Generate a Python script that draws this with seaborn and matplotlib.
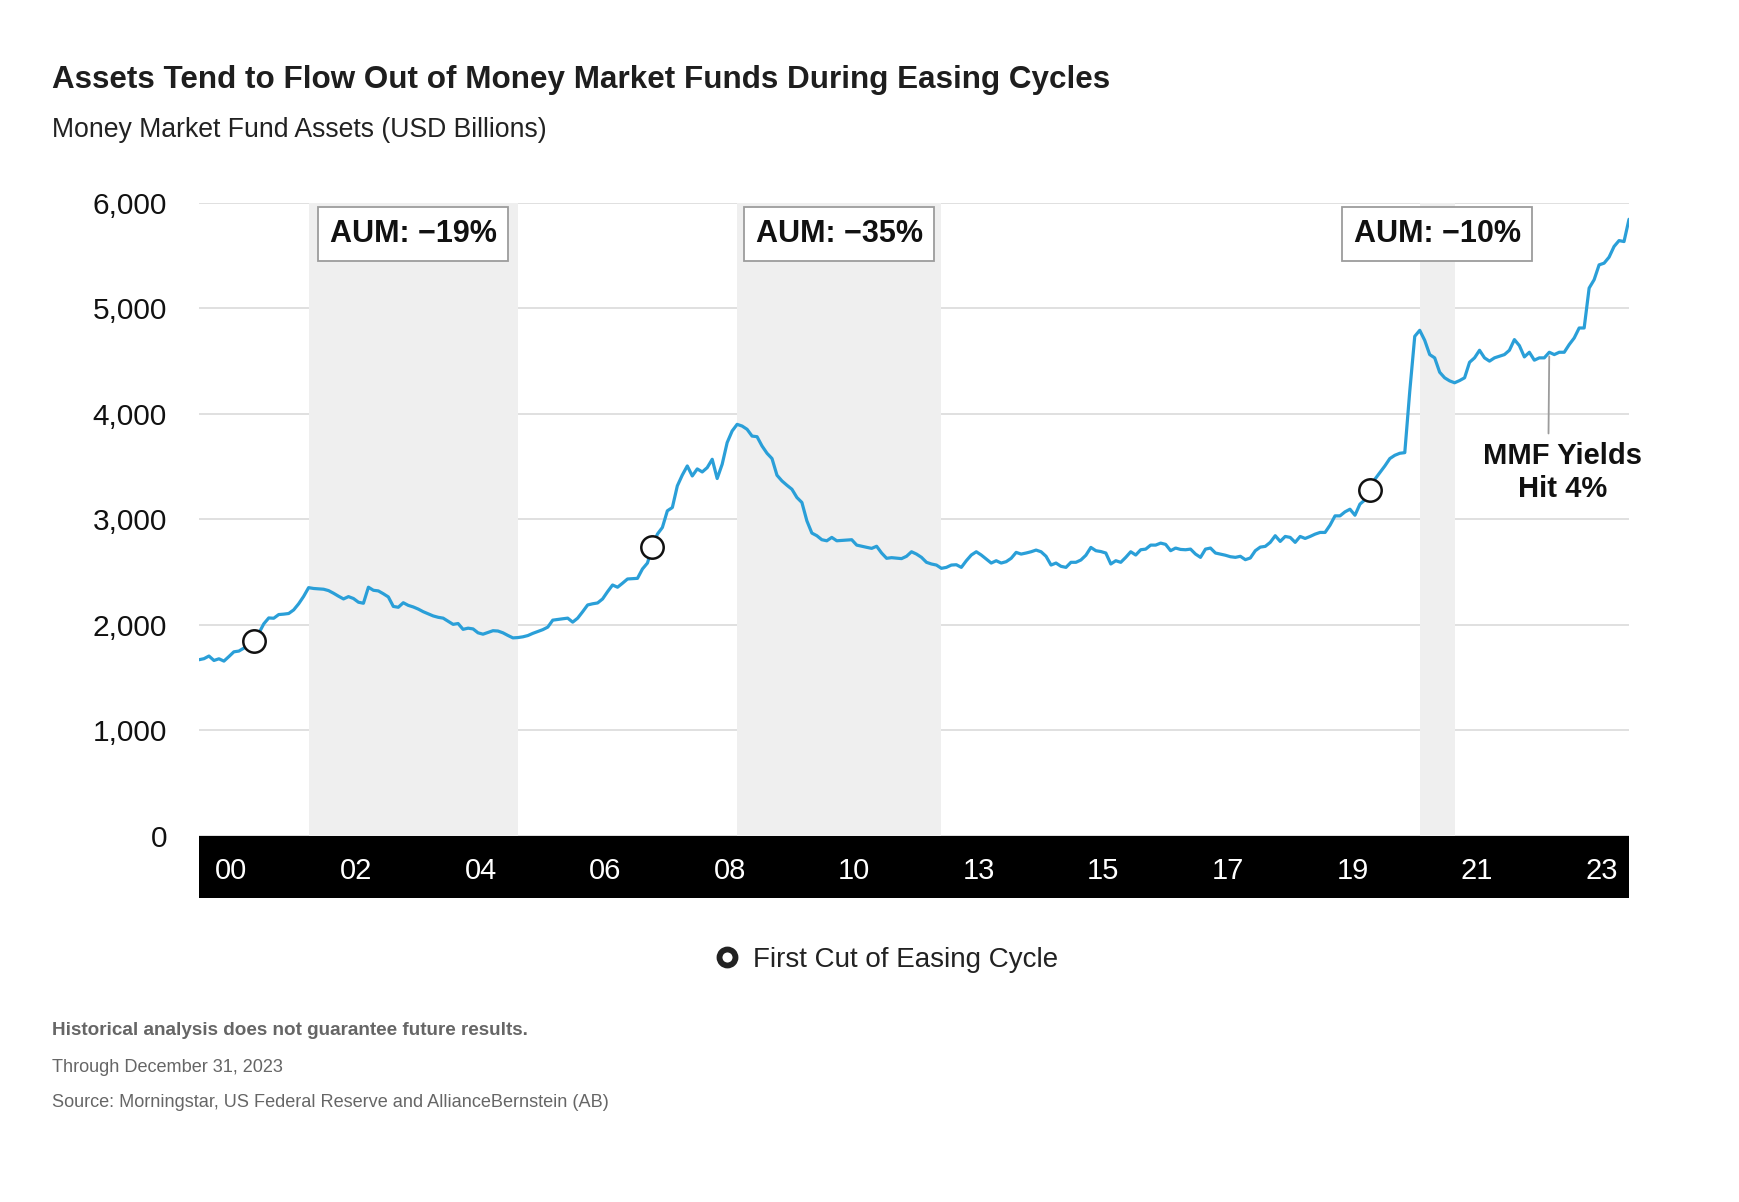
import numpy as np
import pandas as pd
import matplotlib
matplotlib.use("Agg")
import matplotlib.pyplot as plt
import seaborn as sns
from matplotlib.lines import Line2D

# Money market fund assets, USD billions, monthly
y2000 = [1670, 1680, 1705, 1663, 1679, 1657, 1700, 1745, 1752, 1780, 1805, 1852]
y2001 = [1920, 2010, 2066, 2063, 2098, 2102, 2108, 2142, 2200, 2270, 2353, 2345]
y2002 = [2342, 2338, 2325, 2300, 2272, 2246, 2268, 2250, 2215, 2205, 2357, 2328]
y2003 = [2322, 2295, 2265, 2175, 2167, 2210, 2185, 2170, 2150, 2125, 2105, 2085]
y2004 = [2072, 2064, 2035, 2005, 2013, 1958, 1969, 1962, 1925, 1912, 1928, 1945]
y2005 = [1942, 1925, 1900, 1877, 1880, 1887, 1899, 1920, 1937, 1955, 1979, 2045]
y2006 = [2052, 2058, 2064, 2026, 2064, 2125, 2189, 2200, 2208, 2246, 2315, 2378]
y2007 = [2357, 2395, 2435, 2438, 2441, 2530, 2586, 2740, 2860, 2923, 3081, 3112]
y2008 = [3317, 3420, 3506, 3411, 3478, 3449, 3490, 3569, 3387, 3522, 3727, 3837]
y2009 = [3900, 3884, 3853, 3789, 3783, 3695, 3626, 3576, 3418, 3364, 3323, 3285]
y2010 = [3207, 3160, 2986, 2870, 2845, 2807, 2797, 2829, 2797, 2800, 2804, 2807]
y2011 = [2756, 2745, 2735, 2725, 2745, 2681, 2631, 2637, 2632, 2628, 2650, 2693]
y2012 = [2671, 2640, 2593, 2577, 2567, 2536, 2545, 2567, 2570, 2545, 2608, 2662]
y2013 = [2693, 2662, 2624, 2586, 2608, 2586, 2599, 2631, 2687, 2671, 2681, 2693]
y2014 = [2709, 2693, 2650, 2567, 2586, 2555, 2545, 2593, 2593, 2615, 2660, 2734]
y2015 = [2703, 2695, 2681, 2577, 2608, 2593, 2640, 2693, 2662, 2712, 2718, 2756]
y2016 = [2756, 2775, 2763, 2703, 2728, 2715, 2712, 2718, 2671, 2640, 2718, 2728]
y2017 = [2681, 2671, 2660, 2646, 2640, 2650, 2618, 2634, 2703, 2737, 2744, 2782]
y2018 = [2845, 2791, 2838, 2829, 2782, 2838, 2819, 2838, 2860, 2876, 2876, 2945]
y2019 = [3033, 3033, 3071, 3096, 3039, 3144, 3185, 3274, 3380, 3443, 3506, 3576]
y2020 = [3607, 3626, 3632, 4214, 4734, 4791, 4696, 4561, 4530, 4394, 4341, 4312]
y2021 = [4294, 4315, 4341, 4488, 4530, 4602, 4530, 4499, 4530, 4545, 4561, 4602]
y2022 = [4703, 4646, 4539, 4583, 4508, 4530, 4530, 4583, 4561, 4583, 4583, 4656]
y2023 = [4718, 4813, 4813, 5191, 5270, 5411, 5427, 5484, 5585, 5641, 5632, 5843]

years = [y2000, y2001, y2002, y2003, y2004, y2005, y2006, y2007, y2008, y2009, y2010, y2011,
         y2012, y2013, y2014, y2015, y2016, y2017, y2018, y2019, y2020, y2021, y2022, y2023]

# x-axis labels as they sit on the chart
tick_months = ["2000-07", "2002-08", "2004-09", "2006-10", "2008-11", "2010-12",
               "2013-01", "2015-02", "2017-03", "2019-04", "2021-05", "2023-06"]
tick_labels = ["00", "02", "04", "06", "08", "10", "13", "15", "17", "19", "21", "23"]

first_cut_months = ["2000-12", "2007-08", "2019-08"]

drawdown_start = ["2001-11", "2009-01", "2020-06"]
drawdown_end = ["2005-05", "2012-06", "2021-01"]
drawdown_labels = ["AUM: \u221219%", "AUM: \u221235%", "AUM: \u221210%"]

yield_note_month = "2022-08"

y_ticks = [0, 1000, 2000, 3000, 4000, 5000, 6000]

assets = np.concatenate(years)
months = pd.period_range("2000-01", periods=len(assets), freq="M").astype(str)
df = pd.DataFrame({"t": np.arange(len(assets)), "month": months, "assets": assets})
pos = pd.Series(df["t"].values, index=df["month"])

cuts_df = df[df["month"].isin(first_cut_months)]

sns.set_theme(style="white")
plt.rcParams["font.family"] = ["Liberation Sans", "DejaVu Sans"]

BLUE = "#2a9fd8"
SHADE = "#efefef"
INK = "#111111"

W, H = 1740, 1202
fig = plt.figure(figsize=(W / 100, H / 100), dpi=100)
left, right, top, bottom, band_bottom = 199, 1629, 202.7, 836, 898.3
ax = fig.add_axes([left / W, 1 - bottom / H, (right - left) / W, (bottom - top) / H])
band = fig.add_axes([left / W, 1 - band_bottom / H, (right - left) / W, (band_bottom - bottom) / H],
                    sharex=ax)

# grid + drawdown shading
ax.set_axisbelow(True)
ax.yaxis.grid(True, color="#dddddd", linewidth=1.3)
ax.xaxis.grid(False)
for s, e, lab in zip(drawdown_start, drawdown_end, drawdown_labels):
    x0, x1 = pos[s], pos[e]
    ax.axvspan(x0, x1, color=SHADE, lw=0, zorder=1)
    ax.text((x0 + x1) / 2, 5703, lab, ha="center", va="center", fontsize=22,
            fontweight="bold", color=INK, zorder=6,
            bbox=dict(boxstyle="square,pad=0.38", fc="white", ec="#9c9c9c", lw=1.3))

sns.lineplot(data=df, x="t", y="assets", ax=ax, color=BLUE, linewidth=2.3, zorder=3)
sns.scatterplot(data=cuts_df, x="t", y="assets", ax=ax, s=260, color="white",
                edgecolor=INK, linewidth=1.8, zorder=4, legend=False)

ax.set_xlim(0, len(assets) - 1)
ax.set_ylim(0, 6000)
ax.set_yticks(y_ticks)
ax.set_yticklabels([f"{v:,}" for v in y_ticks])
ax.tick_params(axis="y", length=0, pad=23, labelsize=21.5, labelcolor=INK)
ax.tick_params(axis="x", bottom=False, labelbottom=False)
ax.set_xlabel("")
ax.set_ylabel("")
sns.despine(ax=ax, left=True, bottom=True)

# MMF yields annotation
ax.annotate("MMF Yields\nHit 4%", xy=(pos[yield_note_month], df.loc[pos[yield_note_month], "assets"]),
            xytext=(273.7, 3730), textcoords="data", ha="center", va="top",
            fontsize=21, fontweight="bold", color=INK, linespacing=1.22,
            annotation_clip=False,
            arrowprops=dict(arrowstyle="-", color="#9c9c9c", lw=1.3, shrinkA=4, shrinkB=3,
                            relpos=(0.41, 1.0)))

# black year band
band.set_facecolor("black")
band.set_yticks([])
band.tick_params(axis="x", bottom=False, labelbottom=False)
for sp in band.spines.values():
    sp.set_visible(False)
for m, lab in zip(tick_months, tick_labels):
    band.text(pos[m] + 0.5, 0.31, lab, transform=band.get_xaxis_transform(), ha="center",
              va="baseline", color="white", fontsize=21)

# titles
title = fig.text(52 / W, 1 - 88 / H, "Assets Tend to Flow Out of Money Market Funds During Easing Cycles",
                 fontsize=22, fontweight="bold", color="#1e1e1e", va="baseline")
fig.text(52 / W, 1 - 136.7 / H, "Money Market Fund Assets (USD Billions)",
         fontsize=19.2, color="#222222", va="baseline")

# legend
handle = Line2D([], [], ls="none", marker="o", markersize=11.5, markerfacecolor="white",
                markeredgecolor="#222222", markeredgewidth=4.2)
leg = fig.legend([handle], ["First Cut of Easing Cycle"], loc="center left",
                 bbox_to_anchor=(716 / W, 1 - 960 / H), frameon=False, fontsize=20,
                 handlelength=0.8, handletextpad=0.55, borderpad=0, borderaxespad=0)
for t in leg.get_texts():
    t.set_color("#222222")

# footer
fig.text(52 / W, 1 - 1035 / H, "Historical analysis does not guarantee future results.",
         fontsize=13.6, fontweight="bold", color="#666666", va="baseline")
fig.text(52 / W, 1 - 1072 / H, "Through December 31, 2023",
         fontsize=13.1, color="#666666", va="baseline")
fig.text(52 / W, 1 - 1107 / H, "Source: Morningstar, US Federal Reserve and AllianceBernstein (AB)",
         fontsize=13.1, color="#666666", va="baseline")

# fit title width to the reference
fig.canvas.draw()
w = title.get_window_extent(fig.canvas.get_renderer()).width
title.set_fontsize(title.get_fontsize() * 1057 / w)

fig.savefig("out.png", dpi=100, facecolor="white")
